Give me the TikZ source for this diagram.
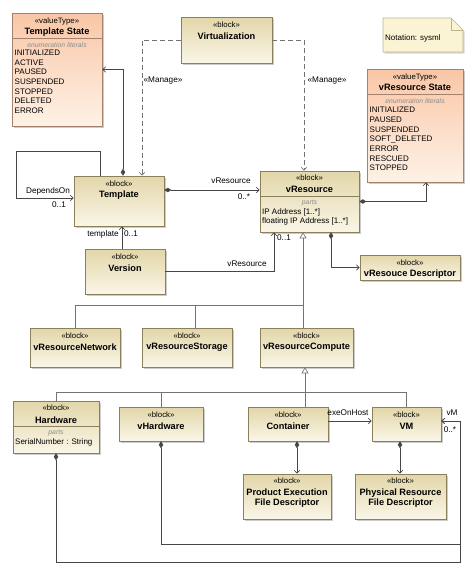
\documentclass[tikz,border=0pt]{standalone}
\usepackage{fontspec}
\setmainfont{Liberation Sans}
\usetikzlibrary{arrows.meta,shadows,calc}
\definecolor{blkA}{RGB}{226,214,168}
\definecolor{blkB}{RGB}{250,246,232}
\definecolor{blkD}{RGB}{140,128,92}
\definecolor{vtA}{RGB}{249,198,166}
\definecolor{vtB}{RGB}{254,242,230}
\definecolor{vtD}{RGB}{165,130,110}
\definecolor{noteA}{RGB}{251,244,212}
\definecolor{noteD}{RGB}{190,180,140}
\definecolor{lineD}{RGB}{70,70,70}
\definecolor{lineG}{RGB}{115,115,115}
\definecolor{catcol}{RGB}{140,140,140}
\tikzset{
 boxbase/.style={rectangle, inner sep=0pt, line width=0.6pt,
   drop shadow={shadow xshift=1.5pt, shadow yshift=-1.5pt, fill=black!40, opacity=0.5}},
 blk/.style={boxbase, draw=blkD, top color=blkA, bottom color=blkB},
 vtype/.style={boxbase, draw=vtD, top color=vtA, bottom color=vtB},
 st/.style={inner sep=0pt, font=\fontsize{7.8}{9}\selectfont},
 nm/.style={inner sep=0pt, font=\bfseries\fontsize{9.2}{10.2}\selectfont},
 itm/.style={inner sep=0pt, anchor=west, font=\fontsize{8}{9}\selectfont},
 cat/.style={inner sep=0pt, font=\itshape\fontsize{6.8}{8}\selectfont, text=catcol},
 lbl/.style={inner sep=0pt, font=\fontsize{8.2}{9.5}\selectfont},
 assoc/.style={draw=lineD, line width=0.65pt},
 nav/.style={assoc, -{Straight Barb[length=3pt,width=5.5pt]}},
 compo/.style={assoc, {Diamond[length=7pt,width=4.5pt]}-{Straight Barb[length=3pt,width=5.5pt]}},
 genl/.style={draw=lineG, line width=0.65pt},
 gen/.style={genl, -{Triangle[open,length=6pt,width=7pt,fill=white]}},
 dep/.style={genl, dash pattern=on 5pt off 3pt, -{Straight Barb[length=3pt,width=5.5pt]}},
}
\newcommand\mkbox[6]{%
  \pgfmathsetmacro\bxw{#4-#2}\pgfmathsetmacro\bxh{#5-#3}%
  \pgfmathsetmacro\bxcx{(#2+#4)/2}\pgfmathsetmacro\bxcy{(#3+#5)/2}%
  \node[#6, minimum width=\bxw pt, minimum height=\bxh pt] (#1) at (\bxcx,\bxcy) {};%
}
\newcommand\mkblock[6]{%
  \mkbox{#1}{#2}{#3}{#4}{#5}{blk}%
  \node[st] (#1-s) at (\bxcx,#3+7.5) {«block»};%
  \node[nm] (#1-n) at (\bxcx,#3+19) {#6};%
}
\begin{document}
\begin{tikzpicture}[x=1pt,y=-1pt]
\useasboundingbox (0,0) rectangle (474,573);

% ---------- value types ----------
\mkbox{tst}{12}{13}{102}{126}{vtype}
\node[st] (tst-s) at (57,21) {«valueType»};
\node[nm] (tst-n) at (57,32) {Template State};
\draw[vtD,line width=0.5pt] ([yshift=-26pt]tst.north west) -- ([yshift=-26pt]tst.north east);
\node[cat] (tst-c) at (57,45) {enumeration literals};
\foreach \t [count=\i from 0] in {INITIALIZED,ACTIVE,PAUSED,SUSPENDED,STOPPED,DELETED,ERROR}
  \node[itm] (tst-\i) at (14.5,53+9.6*\i) {\t};

\mkbox{vrst}{367}{69}{463}{182}{vtype}
\node[st] (vrst-s) at (415,77) {«valueType»};
\node[nm] (vrst-n) at (415,87.5) {vResource State};
\draw[vtD,line width=0.5pt] ([yshift=-26pt]vrst.north west) -- ([yshift=-26pt]vrst.north east);
\node[cat] (vrst-c) at (415,101.5) {enumeration literals};
\foreach \t [count=\i from 0] in {INITIALIZED,PAUSED,SUSPENDED,SOFT\_DELETED,ERROR,RESCUED,STOPPED}
  \node[itm] (vrst-\i) at (369.5,110+9.7*\i) {\t};

% ---------- note ----------
\draw[draw=noteD, fill=noteA, line width=0.6pt,
  drop shadow={shadow xshift=1.5pt, shadow yshift=-1.5pt, fill=black!40, opacity=0.4}]
  (383,18) -- (451,18) -- (463,30) -- (463,52) -- (383,52) -- cycle;
\draw[draw=noteD, line width=0.6pt] (451,18) -- (451,30) -- (463,30);
\node[itm] (note) at (385,38) {Notation: sysml};

% ---------- blocks ----------
\mkblock{virt}{181}{17}{272}{63}{Virtualization}
\mkblock{tpl}{74}{176}{164}{226}{Template}
\mkbox{vres}{260}{171}{359}{232}{blk}
\node[st] (vres-s) at (309.5,177.5) {«block»};
\node[nm] (vres-n) at (309.5,189) {vResource};
\draw[blkD,line width=0.5pt] ([yshift=-26pt]vres.north west) -- ([yshift=-26pt]vres.north east);
\node[cat] (vres-c) at (309.5,203) {parts};
\node[itm] (vres-p1) at (262,212) {IP Address [1..*]};
\node[itm] (vres-p2) at (262,221.5) {floating IP Address [1..*]};
\mkblock{ver}{85}{249}{165}{294}{Version}
\mkblock{desc}{360}{255}{460}{280}{vResouce Descriptor}
\mkblock{net}{30}{328}{120}{367}{vResourceNetwork}
\mkblock{stor}{142}{328}{232}{367}{vResourceStorage}
\mkblock{comp}{260}{328}{353}{367}{vResourceCompute}
\mkbox{hw}{13}{401}{99}{453}{blk}
\node[st] (hw-s) at (56,408) {«block»};
\node[nm] (hw-n) at (56,420) {Hardware};
\draw[blkD,line width=0.5pt] ([yshift=-26pt]hw.north west) -- ([yshift=-26pt]hw.north east);
\node[cat] (hw-c) at (56,433) {parts};
\node[itm] (hw-p1) at (15,442) {SerialNumber : String};
\mkblock{vhw}{119}{407}{203}{441}{vHardware}
\mkblock{cont}{248}{407}{328}{441}{Container}
\mkblock{vm}{372}{407}{441}{441}{VM}
\mkbox{pefd}{243}{474}{331}{519}{blk}
\node[st] (pefd-s) at (287,480.5) {«block»};
\node[nm, align=center] (pefd-n) at (287,498) {Product Execution\\File Descriptor};
\mkbox{prfd}{355}{474}{446}{519}{blk}
\node[st] (prfd-s) at (400.5,480.5) {«block»};
\node[nm, align=center] (prfd-n) at (400.5,498) {Physical Resource\\File Descriptor};

% ---------- connectors ----------
\draw[compo] ([xshift=4pt]tpl.north) |- (tst.east);
\draw[dep] (virt.west) -| ([xshift=23pt]tpl.north);
\draw[dep] (virt.east) -| ([xshift=-5.5pt]vres.north);
\node[lbl] (man1) at (163,81) {«Manage»};
\node[lbl] (man2) at (327,81) {«Manage»};

\coordinate (loopA) at (16,151);
\draw[nav] ([xshift=-19pt]tpl.north) |- (loopA) |- ([yshift=3pt]tpl.west);
\node[lbl] (dep-l) at (48,191) {DependsOn};
\node[lbl] (dep-m) at (59,205) {0..1};

\draw[compo] ([yshift=11pt]tpl.east) -- ([yshift=11pt]tpl.east -| vres.west);
\node[lbl] (vr-l) at (231,181) {vResource};
\node[lbl] (vr-m) at (244,197) {0..*};

\draw[nav] ([xshift=-3pt]ver.north) -- ([xshift=-3pt]ver.north |- tpl.south);
\node[lbl] (tp-l) at (103,234) {template};
\node[lbl] (tp-m) at (131,234) {0..1};

\draw[nav] (ver.east) -| ([xshift=-35.5pt]vres.south);
\node[lbl] (vv-l) at (247,264) {vResource};
\node[lbl] (vv-m) at (284,238) {0..1};

\draw[compo] (vres.east) -| ([xshift=11pt]vrst.south);
\draw[compo] ([xshift=21.5pt]vres.south) |- (desc.west);

\coordinate (gA) at (303,305);
\draw[genl] (net.north) |- (gA);
\draw[genl] ([xshift=8pt]stor.north) -- ([xshift=8pt]stor.north |- gA);
\draw[gen] ([xshift=-3.5pt]comp.north) -- ([xshift=-3.5pt]comp.north |- vres.south);

\coordinate (gB) at (305,392);
\draw[genl] (hw.north) |- (gB);
\draw[genl] (vhw.north) -- (vhw.north |- gB);
\draw[genl] (vm.north) |- (gB);
\draw[gen] ([xshift=17pt]cont.north) -- ([xshift=17pt]cont.north |- comp.south);

\draw[nav] ([yshift=3pt]cont.east) -- ([yshift=3pt]cont.east -| vm.west);
\node[lbl] (exe) at (348,413) {exeOnHost};

\draw[compo] ([xshift=9pt]cont.south) -- ([xshift=9pt]cont.south |- pefd.north);
\draw[compo] ([xshift=-6.5pt]vm.south) -- ([xshift=-6.5pt]vm.south |- prfd.north);

\coordinate (vbA) at (460,544);
\coordinate (vbB) at (460,562);
\draw[compo] (vhw.south) |- (vbA) |- ([yshift=3pt]vm.east);
\draw[compo] (hw.south) |- (vbB) |- ([yshift=3pt]vm.east);
\node[lbl] (vm-l) at (452,413) {vM};
\node[lbl] (vm-m) at (450,430) {0..*};
\end{tikzpicture}
\end{document}
